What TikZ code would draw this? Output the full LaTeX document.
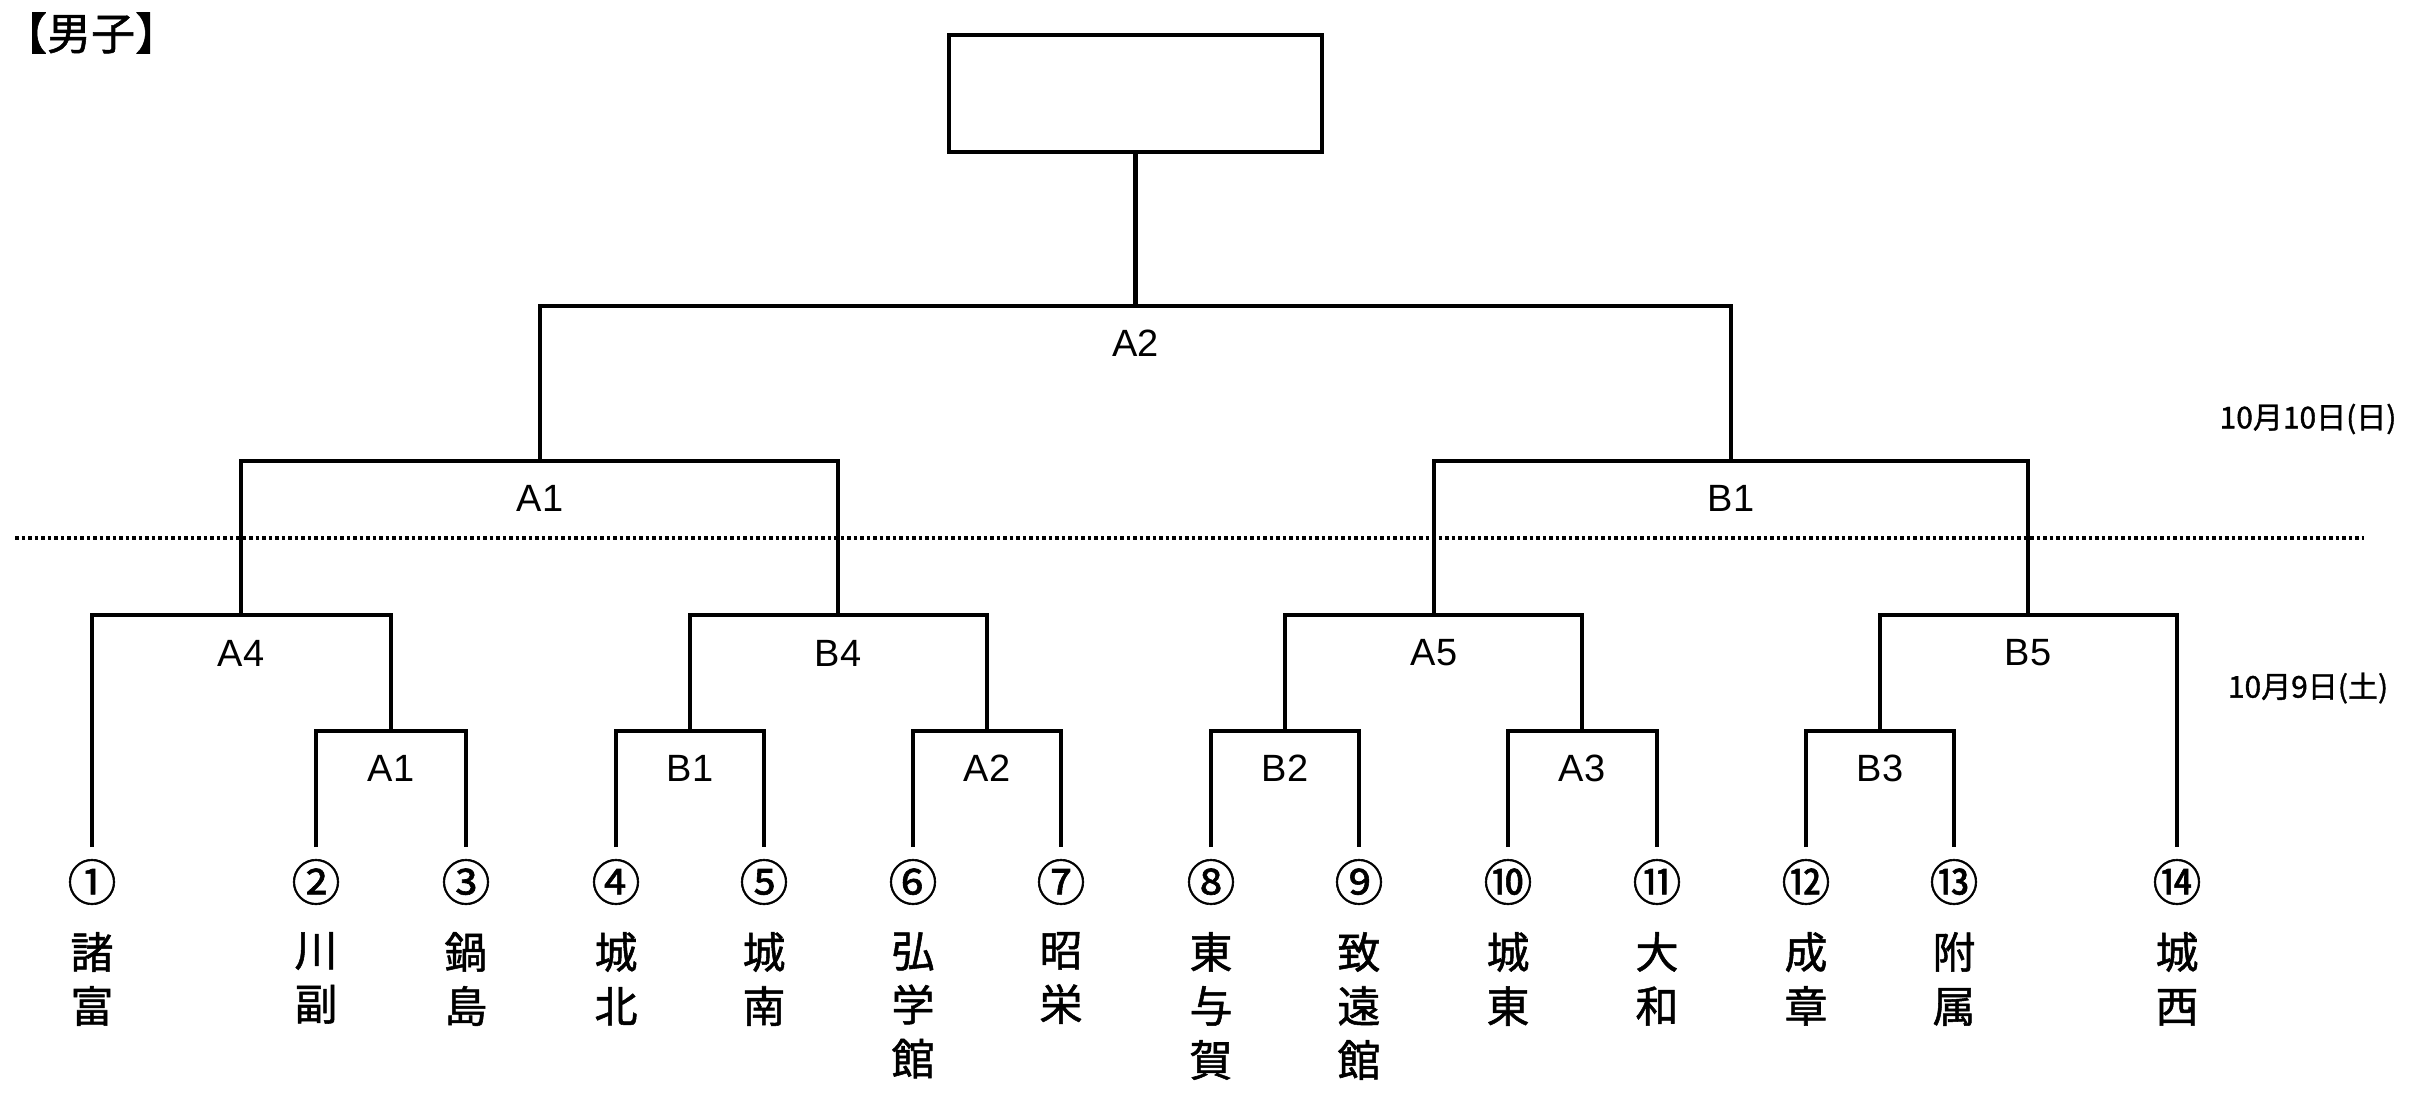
\documentclass[tikz,border=0pt]{standalone}
\usepackage{fontspec}
\setmainfont{Liberation Sans}
\newfontfamily\jp{Noto Sans CJK JP}
\newfontfamily\jpb[FakeBold=1.2]{Noto Sans CJK JP}
\begin{document}
\begin{tikzpicture}[x=1pt,y=-1pt,
  bracket/.style={draw, line width=4.6pt, line join=miter},
  lbl/.style={font=\fontsize{38}{40}\selectfont, inner sep=0pt},
  num/.style={font=\jpb\fontsize{49}{50}\selectfont, inner sep=0pt},
  school/.style={font=\jpb\fontsize{43}{54}\selectfont, inner sep=0pt, anchor=north, align=center},
  datelbl/.style={font=\jpb\fontsize{30}{32}\selectfont, inner sep=0pt},
  dots/.style={draw, line width=4.5pt, dash pattern=on 3.5pt off 3pt}]
\useasboundingbox (0,0) rectangle (2413,1101);
\fill[white] (0,0) rectangle (2413,1101);

% title
\node[font=\jpb\fontsize{44}{46}\selectfont, inner sep=0pt, anchor=west] (title) at (3,33) {【男子】};

% champion box
\node[draw, line width=4.6pt, minimum width=373pt, minimum height=117pt, inner sep=0pt] (champ) at (1135.5,93.5) {};

% junction coordinates
\coordinate (F) at (1135.5,306);
\coordinate (SA) at (540,461);
\coordinate (SB) at (1731,461);
\coordinate (QA4) at (241,615);
\coordinate (QB4) at (838,615);
\coordinate (QA5) at (1434,615);
\coordinate (QB5) at (2028,615);
\coordinate (rA1) at (391,731);
\coordinate (rB1) at (690,731);
\coordinate (rA2) at (987,731);
\coordinate (rB2) at (1285,731);
\coordinate (rA3) at (1582,731);
\coordinate (rB3) at (1880,731);
% leaf ends
\foreach \i/\x in {1/92,2/316,3/466,4/616,5/764,6/913,7/1061,8/1211,9/1359,10/1508,11/1657,12/1806,13/1954,14/2177}
  \coordinate (L\i) at (\x,847);

% brackets
\draw[bracket] (F) -- (champ.south);
\draw[bracket] (SA) |- (F) -| (SB);
\draw[bracket] (QA4) |- (SA) -| (QB4);
\draw[bracket] (QA5) |- (SB) -| (QB5);
\draw[bracket] (L1) |- (QA4) -| (rA1);
\draw[bracket] (rB1) |- (QB4) -| (rA2);
\draw[bracket] (rB2) |- (QA5) -| (rA3);
\draw[bracket] (rB3) |- (QB5) -| (L14);
\draw[bracket] (L2) |- (rA1) -| (L3);
\draw[bracket] (L4) |- (rB1) -| (L5);
\draw[bracket] (L6) |- (rA2) -| (L7);
\draw[bracket] (L8) |- (rB2) -| (L9);
\draw[bracket] (L10) |- (rA3) -| (L11);
\draw[bracket] (L12) |- (rB3) -| (L13);

% match labels
\node[lbl] (tF) at (1135.5,343) {A2};
\node[lbl] (tSA) at (540,498) {A1};
\node[lbl] (tSB) at (1731,498) {B1};
\node[lbl] (tQA4) at (241,653) {A4};
\node[lbl] (tQB4) at (838,653) {B4};
\node[lbl] (tQA5) at (1434,653) {A5};
\node[lbl] (tQB5) at (2028,653) {B5};
\node[lbl] (trA1) at (391,768) {A1};
\node[lbl] (trB1) at (690,768) {B1};
\node[lbl] (trA2) at (987,768) {A2};
\node[lbl] (trB2) at (1285,768) {B2};
\node[lbl] (trA3) at (1582,768) {A3};
\node[lbl] (trB3) at (1880,768) {B3};

% dotted day separator
\coordinate (d1) at (15,538);
\coordinate (d2) at (2364,538);
\draw[dots] (d1) -- (d2);

% dates
\node[datelbl] (day2) at (2308,419) {10月10日(日)};
\node[datelbl] (day1) at (2308,688) {10月9日(土)};

% seeds and schools
\foreach \i/\x/\n/\s in {1/92/①/{諸\\富},2/316/②/{川\\副},3/466/③/{鍋\\島},4/616/④/{城\\北},5/764/⑤/{城\\南},6/913/⑥/{弘\\学\\館},7/1061/⑦/{昭\\栄},8/1211/⑧/{東\\与\\賀},9/1359/⑨/{致\\遠\\館},10/1508/⑩/{城\\東},11/1657/⑪/{大\\和},12/1806/⑫/{成\\章},13/1954/⑬/{附\\属},14/2177/⑭/{城\\西}}{
  \node[num] (n\i) at (\x,882) {\n};
  \node[school] (s\i) at (\x,932) {\s};
}
\end{tikzpicture}
\end{document}
